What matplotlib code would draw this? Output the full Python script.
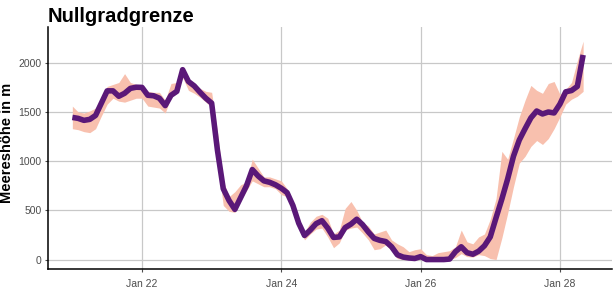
import matplotlib
matplotlib.use("Agg")
import matplotlib.pyplot as plt
import matplotlib.dates as mdates
import pandas as pd
import numpy as np

plt.rcParams['font.family'] = ['Liberation Sans', 'DejaVu Sans']

# 2-hourly time stamps starting Jan 21 00:00
start_time = "2021-01-21 00:00"
n_points = 89

mean_height = [1445, 1435, 1415, 1425, 1465, 1590, 1715, 1715, 1660, 1690,
               1740, 1752, 1750, 1670, 1665, 1640, 1565, 1670, 1710, 1930,
               1810, 1765, 1700, 1640, 1590, 1110, 720, 600, 510, 630,
               750, 915, 850, 800, 785, 760, 725, 680, 550, 370,
               245, 300, 365, 395, 320, 225, 230, 325, 360, 410,
               355, 280, 215, 195, 183, 130, 48, 25, 16, 11,
               30, 0, 0, 0, 0, 5, 80, 130, 70, 54,
               85, 140, 230, 425, 615, 820, 1050, 1215, 1330, 1440,
               1510, 1480, 1500, 1490, 1580, 1705, 1718, 1760, 2080]

lower_height = [1330, 1320, 1300, 1290, 1330, 1460, 1580, 1640, 1610, 1600,
                1620, 1640, 1640, 1560, 1550, 1540, 1490, 1650, 1690, 1850,
                1720, 1690, 1650, 1600, 1550, 1000, 550, 490, 480, 600,
                700, 800, 770, 740, 740, 720, 660, 640, 520, 340,
                200, 260, 310, 320, 230, 120, 170, 300, 320, 330,
                270, 200, 100, 110, 150, 90, 10, 0, 0, 0,
                0, 0, 0, 0, 0, 0, 20, 60, 30, 25,
                50, 40, 10, 0, 220, 470, 740, 980, 1050, 1150,
                1210, 1170, 1230, 1330, 1450, 1580, 1630, 1660, 1710]

upper_height = [1560, 1500, 1490, 1510, 1540, 1640, 1760, 1780, 1800, 1890,
                1800, 1780, 1760, 1710, 1700, 1700, 1620, 1790, 1800, 1960,
                1830, 1790, 1740, 1710, 1700, 1300, 800, 640, 690, 760,
                790, 1020, 930, 840, 840, 820, 800, 720, 580, 410,
                280, 380, 440, 460, 420, 260, 300, 520, 590, 500,
                380, 340, 260, 280, 300, 200, 160, 130, 80, 100,
                110, 50, 40, 70, 80, 90, 130, 300, 180, 160,
                230, 260, 410, 620, 1100, 1020, 1230, 1450, 1620, 1770,
                1720, 1690, 1790, 1810, 1680, 1730, 1800, 2020, 2220]

y_ticks = [0, 500, 1000, 1500, 2000]
x_tick_dates = ["2021-01-22", "2021-01-24", "2021-01-26", "2021-01-28"]

times = pd.date_range(start_time, periods=n_points, freq="2h")

fig = plt.figure(figsize=(6.16, 3.08), dpi=100)
ax = fig.add_axes([48/616, 39/308, (612-48)/616, (269-27)/308])

ax.fill_between(times, lower_height, upper_height, color="#F8C0AE", lw=0, zorder=2)
ax.plot(times, mean_height, color="#5A1878", lw=4.0, solid_joinstyle="round",
        solid_capstyle="butt", zorder=3)

ax.set_ylim(-96, 2364)
x0 = pd.Timestamp("2021-01-22") + pd.Timedelta(days=(48-142)/69.65)
x1 = pd.Timestamp("2021-01-22") + pd.Timedelta(days=(612-142)/69.65)
ax.set_xlim(x0, x1)

ax.set_yticks(y_ticks)
ax.set_xticks(pd.to_datetime(x_tick_dates))
ax.xaxis.set_major_formatter(mdates.DateFormatter("%b %d"))

ax.grid(True, color="#C8C8C8", lw=0.9, zorder=0)
ax.set_axisbelow(True)
for s in ["top", "right"]:
    ax.spines[s].set_visible(False)
for s in ["left", "bottom"]:
    ax.spines[s].set_color("black")
    ax.spines[s].set_linewidth(1.1)

ax.tick_params(axis="both", colors="#4D4D4D", labelsize=7.5, length=2.5, width=0.8, pad=2)
for lab in ax.get_xticklabels() + ax.get_yticklabels():
    lab.set_color("#4D4D4D")
ax.xaxis.set_tick_params(pad=5)

ax.set_ylabel("Meereshöhe in m", fontsize=10.5, fontweight="bold")
ax.yaxis.set_label_coords((14-48)/564, 0.52)
fig.text(48/616, 1 - 16/308, "Nullgradgrenze", fontsize=14.5, fontweight="bold",
         ha="left", va="center")

fig.savefig("out.png", dpi=100)
